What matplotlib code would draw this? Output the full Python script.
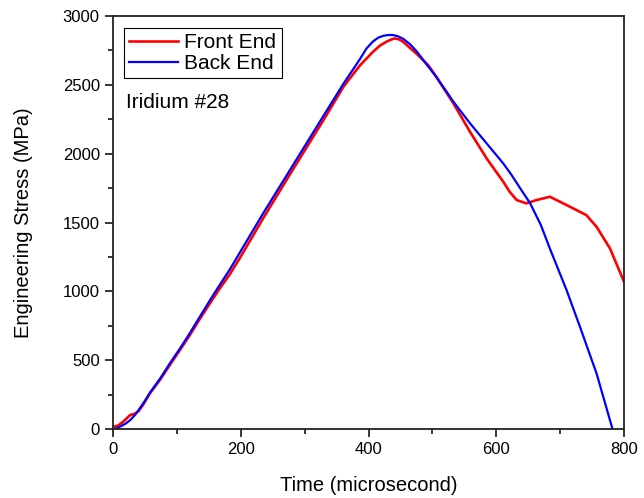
import matplotlib
matplotlib.use("Agg")
import matplotlib.pyplot as plt
from matplotlib.ticker import MultipleLocator

plt.rcParams['font.family'] = ['Liberation Sans', 'DejaVu Sans']

# Back End (blue)
back_t = [0, 5, 11, 20, 27, 35, 42, 50, 58, 74, 89, 105, 120, 136, 152, 167, 183, 199,
          235, 277, 327, 361, 377, 387, 397, 407, 415, 423, 431, 439, 446, 454, 465, 475,
          494, 506, 533, 559, 585, 611, 624, 637, 653, 670, 684, 710, 731, 757, 782]
back_s = [0, 3, 17, 40, 65, 105, 150, 205, 265, 368, 477, 586, 694, 816, 937, 1046, 1160, 1285,
          1566, 1881, 2256, 2510, 2620, 2690, 2765, 2815, 2842, 2856, 2862, 2861, 2853, 2835, 2795, 2745,
          2630, 2559, 2377, 2220, 2074, 1929, 1845, 1752, 1640, 1480, 1310, 1010, 743, 404, 0]

# Front End (red)
front_t = [0, 8, 16, 22, 27, 34, 40, 47, 58, 74, 89, 105, 120, 136, 152, 167, 183, 199,
           235, 277, 329, 361, 387, 407, 418, 428, 435, 441, 448, 454, 475, 494, 506, 533, 559,
           585, 611, 621, 632, 647, 663, 684, 710, 741, 757, 778, 800]
front_s = [15, 25, 53, 80, 102, 110, 130, 175, 260, 360, 465, 575, 680, 800, 915, 1020, 1125, 1245,
           1530, 1850, 2240, 2488, 2643, 2740, 2785, 2813, 2828, 2837, 2830, 2813, 2727, 2640, 2559, 2365, 2158,
           1965, 1796, 1723, 1663, 1639, 1663, 1687, 1627, 1554, 1469, 1312, 1070]

fig = plt.figure(figsize=(6.44, 4.98), dpi=100)
ax = fig.add_axes([113/644, 1-429/498, (624-113)/644, (429-16)/498])

ax.plot(front_t, front_s, color='#FF0000', lw=1.9, label='Front End')
ax.plot(back_t, back_s, color='#0000FF', lw=1.6, label='Back End')

ax.set_xlim(0, 800)
ax.set_ylim(0, 3000)
ax.xaxis.set_major_locator(MultipleLocator(200))
ax.xaxis.set_minor_locator(MultipleLocator(100))
ax.yaxis.set_major_locator(MultipleLocator(500))
ax.yaxis.set_minor_locator(MultipleLocator(250))
ax.tick_params(which='major', direction='out', length=6, width=1.1, labelsize=12, pad=3.5)
ax.tick_params(which='minor', direction='out', length=3.5, width=1.1)
for sp in ax.spines.values():
    sp.set_linewidth(1.3)
    sp.set_color('#222222')

ax.set_xlabel('Time (microsecond)', fontsize=14.5)
ax.set_ylabel('Engineering Stress (MPa)', fontsize=14.5)
ax.xaxis.set_label_coords(0.5, -0.115)
ax.yaxis.set_label_coords(-0.157, 0.5)

leg = ax.legend(loc='upper left', bbox_to_anchor=(0.0215, 0.971), borderaxespad=0,
                fancybox=False, edgecolor='black', framealpha=1, fontsize=15,
                handlelength=2.35, handletextpad=0.3, borderpad=0.25, labelspacing=0.1)
leg.get_frame().set_linewidth(0.8)

ax.text(0.025, 0.777, 'Iridium #28', transform=ax.transAxes, fontsize=15,
        ha='left', va='baseline')

fig.savefig('out.png', dpi=100)
